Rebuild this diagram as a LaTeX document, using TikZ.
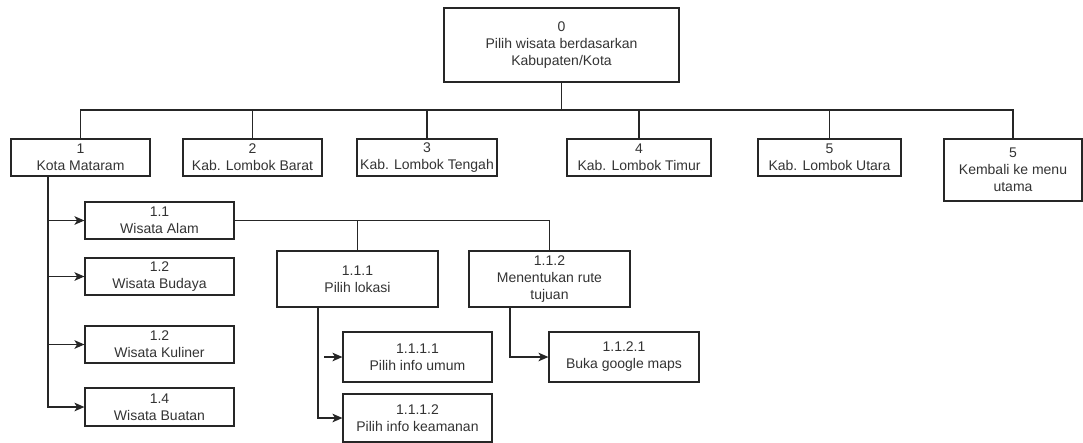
\documentclass[tikz,border=0pt]{standalone}
\usepackage{fontspec}
\setmainfont{Liberation Sans}
\usetikzlibrary{arrows.meta}
\newlength\px
\setlength\px{0.75pt}
\definecolor{edge}{HTML}{262626}
\definecolor{label}{HTML}{333333}
\begin{document}
\begin{tikzpicture}[x=\px, y=-\px,
  box/.style={draw=edge, line width=0.9pt, inner sep=0pt, align=center,
    text=label, font=\fontsize{10.5pt}{12.75pt}\selectfont},
  link/.style={draw=edge, line width=0.9pt},
  arr/.style={link, -{Stealth[length=7.5pt, width=6.5pt, inset=2pt]}}]
\useasboundingbox (0,0) rectangle (1083,443);

% top level
\node[box, minimum width=235*\px, minimum height=74*\px] (root) at (561.5,45)
  {0\\Pilih wisata berdasarkan\\Kabupaten/Kota};

% regencies and cities
\node[box, minimum width=139*\px, minimum height=37*\px] (b1) at (80.5,157.5) {1\\Kota Mataram};
\node[box, minimum width=139*\px, minimum height=37*\px] (b2) at (252.5,157.5) {2\\Kab. Lombok Barat};
\node[box, minimum width=140*\px, minimum height=37*\px] (b3) at (427,157.5) {3\\Kab. Lombok Tengah};
\node[box, minimum width=144*\px, minimum height=37*\px] (b4) at (639,157.5) {4\\Kab. Lombok Timur};
\node[box, minimum width=143*\px, minimum height=37*\px] (b5) at (829.5,157.5) {5\\Kab. Lombok Utara};
\node[box, minimum width=138*\px, minimum height=62*\px] (b6) at (1013,170) {5\\Kembali ke menu\\utama};

% tourism categories
\node[box, minimum width=149*\px, minimum height=37*\px] (w1) at (159.5,220.5) {1.1\\Wisata Alam};
\node[box, minimum width=149*\px, minimum height=37*\px] (w2) at (159.5,276.5) {1.2\\Wisata Budaya};
\node[box, minimum width=149*\px, minimum height=37*\px] (w3) at (159.5,344.5) {1.2\\Wisata Kuliner};
\node[box, minimum width=149*\px, minimum height=38*\px] (w4) at (159.5,407) {1.4\\Wisata Buatan};

% nature tourism menu
\node[box, minimum width=161*\px, minimum height=56*\px] (p1) at (357.5,279) {1.1.1\\Pilih lokasi};
\node[box, minimum width=161*\px, minimum height=56*\px] (p2) at (549.5,279) {1.1.2\\Menentukan rute\\tujuan};
\node[box, minimum width=149*\px, minimum height=50*\px] (q1) at (417.5,357) {1.1.1.1\\Pilih info umum};
\node[box, minimum width=149*\px, minimum height=48*\px] (q2) at (417.5,418) {1.1.1.2\\Pilih info keamanan};
\node[box, minimum width=150*\px, minimum height=50*\px] (q3) at (624,357) {1.1.2.1\\Buka google maps};

% helper coordinates
\coordinate (bus) at (561.5,110);
\coordinate (k1) at (48,0);
\coordinate (k2) at (318,0);
\coordinate (k3) at (510,0);
\coordinate (fa) at (324,357);

% tree from the top box
\foreach \c in {b1,b2,b3,b4,b5,b6}
  \draw[link] (root.south) -- (bus) -| (\c.north);

% Kota Mataram branches
\foreach \c in {w1,w2,w3,w4}
  \draw[arr] (b1.south -| k1) |- (\c.west);

% Wisata Alam branches
\draw[link] (w1.east) -| (p1.north);
\draw[link] (w1.east) -| (p2.north);

% location and route branches
\draw[arr] (fa) -- (q1.west);
\draw[arr] (p1.south -| k2) |- (q2.west);
\draw[arr] (p2.south -| k3) |- (q3.west);
\end{tikzpicture}
\end{document}
